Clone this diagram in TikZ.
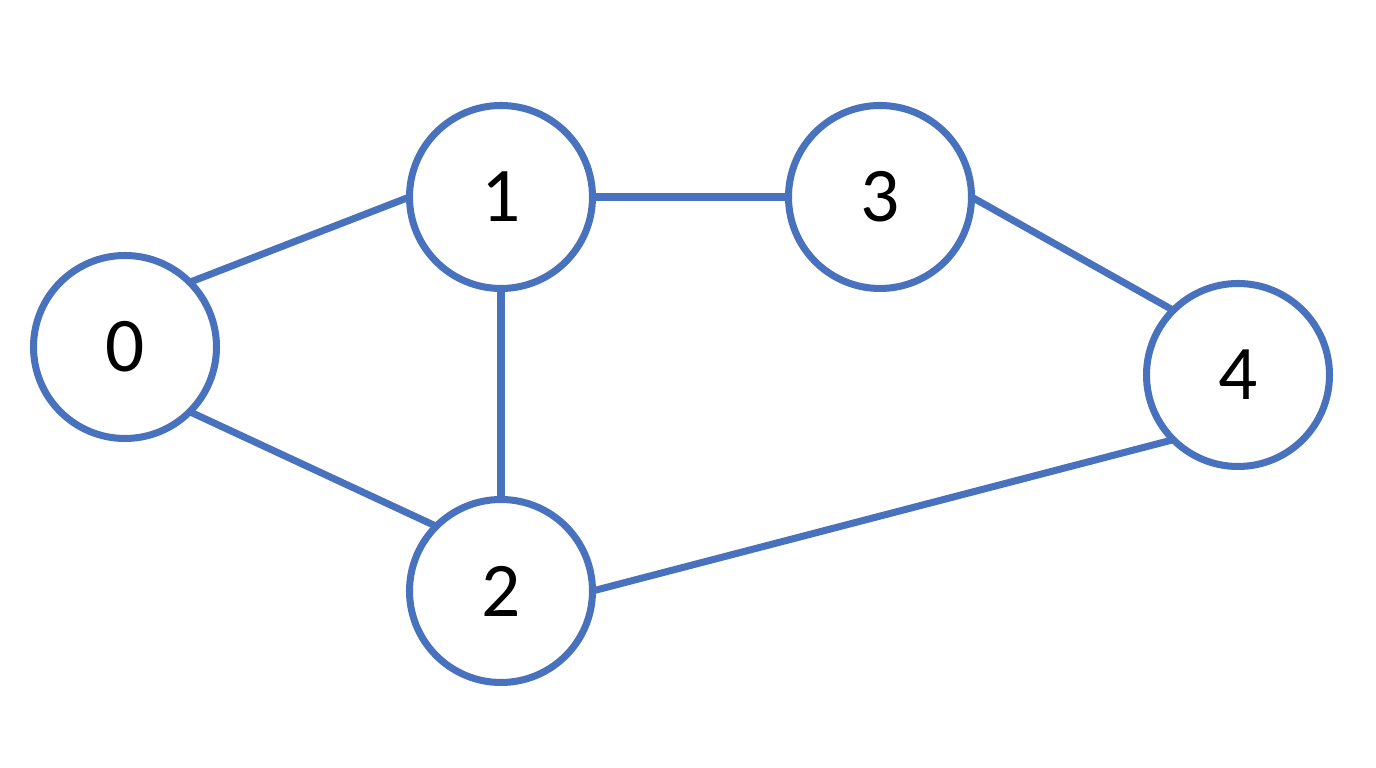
\documentclass[tikz,border=0pt]{standalone}
\usepackage{fontspec}
\setmainfont{Carlito}
\definecolor{edgeblue}{RGB}{72,114,190}
\begin{document}
\begin{tikzpicture}
\useasboundingbox (0,0) rectangle (13.76,7.68);
\tikzset{
  vertex/.style={circle, draw=edgeblue, line width=2pt, fill=white, minimum size=1.83cm, inner sep=0pt, outer sep=0pt, font=\fontsize{22}{26}\selectfont},
  link/.style={draw=edgeblue, line width=2pt}
}
\node[vertex] (n0) at (1.25,4.21) {0};
\node[vertex] (n1) at (5.01,5.71) {1};
\node[vertex] (n3) at (8.80,5.71) {3};
\node[vertex] (n4) at (12.38,3.93) {4};
\node[vertex] (n2) at (5.01,1.77) {2};
\draw[link] (n0.north east) -- (n1.west);
\draw[link] (n1.east) -- (n3.west);
\draw[link] (n3.east) -- (n4.north west);
\draw[link] (n0.south east) -- (n2.north west);
\draw[link] (n1.south) -- (n2.north);
\draw[link] (n2.east) -- (n4.south west);
\end{tikzpicture}
\end{document}
